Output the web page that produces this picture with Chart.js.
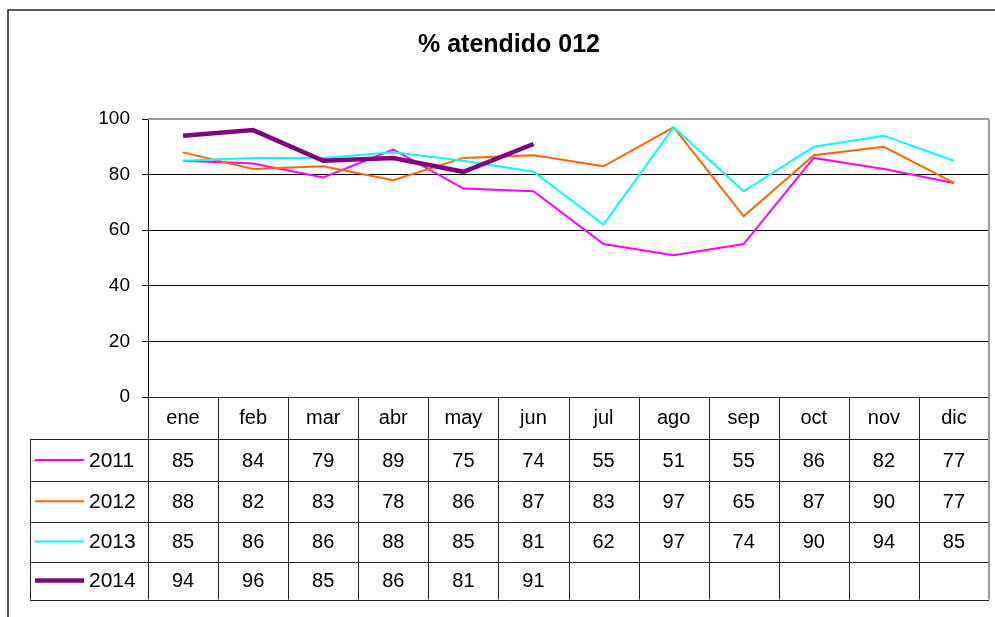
<!DOCTYPE html>
<html>
<head>
<meta charset="utf-8">
<script src="https://cdn.jsdelivr.net/npm/chart.js@4.4.0/dist/chart.umd.min.js"></script>
<style>
html, body { margin: 0; padding: 0; background: #fff; }
canvas { display: block; }
</style>
</head>
<body>
<canvas id="linechart" width="995" height="617"></canvas>
<script>
const months = ['ene', 'feb', 'mar', 'abr', 'may', 'jun', 'jul', 'ago', 'sep', 'oct', 'nov', 'dic'];
const years = ['2011', '2012', '2013', '2014'];
const values2011 = [85, 84, 79, 89, 75, 74, 55, 51, 55, 86, 82, 77];
const values2012 = [88, 82, 83, 78, 86, 87, 83, 97, 65, 87, 90, 77];
const values2013 = [85, 86, 86, 88, 85, 81, 62, 97, 74, 90, 94, 85];
const values2014 = [94, 96, 85, 86, 81, 91, null, null, null, null, null, null];
const yTicks = [0, 20, 40, 60, 80, 100];
const titleText = '% atendido 012';

const seriesValues = [values2011, values2012, values2013, values2014];
const lineColors = ['#ff00ff', '#ff6600', '#00ffff', '#800080'];
const lineWidths = [2, 2, 2, 4.5];
const fontFamily = '"Liberation Sans", Arial, sans-serif';

// Excel style data table under the plot, plus the title and frame lines
const tablePlugin = {
    id: 'dataTable',
    beforeDraw(chart) {
        const ctx = chart.ctx;
        ctx.save();
        ctx.fillStyle = '#fff';
        ctx.fillRect(0, 0, chart.width, chart.height);
        ctx.restore();
    },
    beforeDatasetsDraw(chart) {
        const ctx = chart.ctx;
        const area = chart.chartArea;
        ctx.save();
        ctx.strokeStyle = '#999';
        ctx.lineWidth = 2;
        ctx.beginPath();
        ctx.moveTo(area.left, area.top);
        ctx.lineTo(area.right, area.top);
        ctx.stroke();
        ctx.restore();
    },
    afterDraw(chart) {
        const ctx = chart.ctx;
        const area = chart.chartArea;
        const x = chart.scales.x;
        const colW = (area.right - area.left) / months.length;
        const rows = [area.bottom, area.bottom + 42, area.bottom + 84, area.bottom + 124.5, area.bottom + 164.5, area.bottom + 202.5];
        const legendLeft = 30;

        ctx.save();
        ctx.strokeStyle = '#222';
        ctx.lineWidth = 1;

        // horizontal lines
        ctx.beginPath();
        ctx.moveTo(area.left, Math.round(rows[0]) + 0.5);
        ctx.lineTo(area.right, Math.round(rows[0]) + 0.5);
        for (let r = 1; r < rows.length; r++) {
            const y = Math.round(rows[r]) + 0.5;
            ctx.moveTo(legendLeft, y);
            ctx.lineTo(area.right, y);
        }
        // vertical lines
        for (let i = 0; i < months.length; i++) {
            const xl = Math.round(x.getPixelForValue(i) - colW / 2) + 0.5;
            ctx.moveTo(xl, rows[0]);
            ctx.lineTo(xl, rows[rows.length - 1]);
        }
        ctx.moveTo(legendLeft + 0.5, rows[1]);
        ctx.lineTo(legendLeft + 0.5, rows[rows.length - 1]);
        ctx.stroke();

        // right frame of plot and table
        ctx.strokeStyle = '#999';
        ctx.lineWidth = 2;
        ctx.beginPath();
        ctx.moveTo(area.right, area.top);
        ctx.lineTo(area.right, rows[rows.length - 1]);
        ctx.stroke();

        // outer chart border
        ctx.strokeStyle = '#222';
        ctx.lineWidth = 1.5;
        ctx.strokeRect(8, 10, 1000, 700);

        // title
        ctx.fillStyle = '#000';
        ctx.textAlign = 'center';
        ctx.textBaseline = 'middle';
        ctx.font = 'bold 25px ' + fontFamily;
        ctx.fillText(titleText, 509, 45);

        // texts
        ctx.font = '20px ' + fontFamily;
        months.forEach((m, i) => {
            ctx.fillText(m, x.getPixelForValue(i), (rows[0] + rows[1]) / 2);
        });
        seriesValues.forEach((vals, s) => {
            const yc = (rows[s + 1] + rows[s + 2]) / 2;
            vals.forEach((v, i) => {
                if (v !== null) ctx.fillText(String(v), x.getPixelForValue(i), yc + 1);
            });
            // legend key
            ctx.strokeStyle = lineColors[s];
            ctx.lineWidth = lineWidths[s];
            ctx.beginPath();
            ctx.moveTo(35, yc);
            ctx.lineTo(84, yc);
            ctx.stroke();
            ctx.textAlign = 'left';
            ctx.font = '21px ' + fontFamily;
            ctx.fillText(years[s], 89, yc + 1);
            ctx.font = '20px ' + fontFamily;
            ctx.textAlign = 'center';
        });
        ctx.restore();
    }
};

const datasets = seriesValues.map((vals, s) => ({
    label: years[s],
    data: vals,
    borderColor: lineColors[s],
    backgroundColor: lineColors[s],
    borderWidth: lineWidths[s],
    pointRadius: 0,
    tension: 0,
    spanGaps: false,
    order: seriesValues.length - s,
}));

new Chart(document.getElementById('linechart'), {
    type: 'line',
    data: {
        labels: months,
        datasets: datasets,
    },
    options: {
        responsive: false,
        animation: false,
        devicePixelRatio: 1,
        layout: {
            padding: { top: 119, left: 0, right: 6, bottom: 220 },
        },
        plugins: {
            legend: { display: false },
            tooltip: { enabled: false },
            title: { display: false },
        },
        scales: {
            x: {
                type: 'category',
                offset: true,
                grid: { display: false },
                border: { display: false },
                ticks: { display: false },
                afterFit(scale) { scale.height = 0; },
            },
            y: {
                min: 0,
                max: 100,
                afterBuildTicks(scale) {
                    scale.ticks = yTicks.map((v) => ({ value: v }));
                },
                afterFit(scale) { scale.width = 148; },
                ticks: {
                    color: '#000',
                    padding: 12,
                    font: { family: fontFamily, size: 19 },
                },
                grid: {
                    color: (c) => (c.tick && c.tick.value === 100 ? 'rgba(0,0,0,0)' : '#000'),
                    tickColor: '#000',
                    tickLength: 6,
                    lineWidth: 1,
                },
                border: { color: '#000', width: 1 },
            },
        },
    },
    plugins: [tablePlugin],
});
</script>
</body>
</html>
